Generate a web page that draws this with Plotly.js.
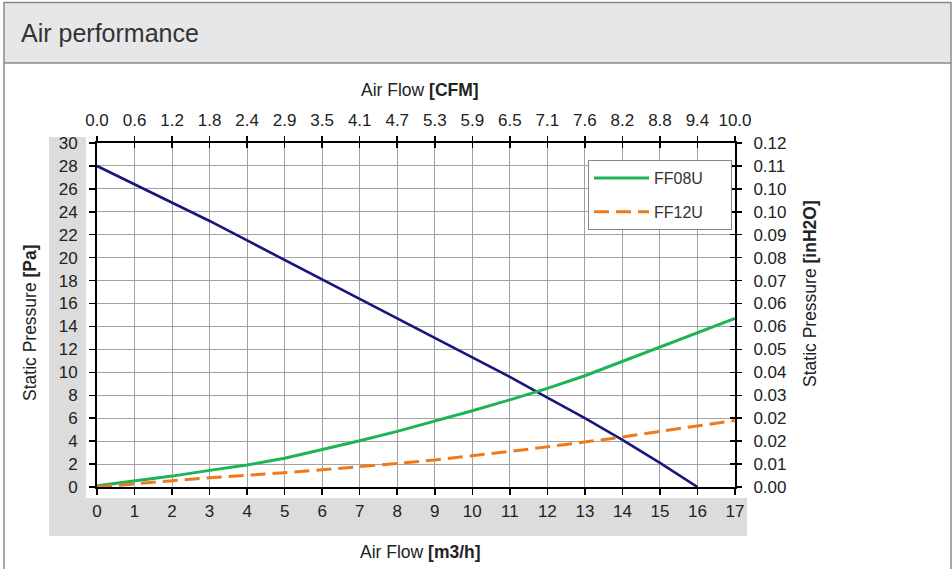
<!DOCTYPE html>
<html><head><meta charset="utf-8">
<script src="https://cdn.plot.ly/plotly-3.0.1.min.js"></script>
<style>html,body{margin:0;padding:0;background:#fff;} #chart{width:952px;height:569px;}</style>
</head><body><div id="chart"></div>
<script>
// ---- data ----
const flowM3h = [0,1,2,3,4,5,6,7,8,9,10,11,12,13,14,15,16,17];
const fanFlowM3h = [0,1,2,3,4,5,6,7,8,9,10,11,12,13,14,15,16];
const fanPressurePa = [28,26.4,24.8,23.2,21.5,19.8,18.1,16.4,14.7,13.0,11.3,9.6,7.8,6.0,4.1,2.1,0];
const ff08uPa = [0.1,0.5,0.95,1.45,1.92,2.5,3.25,4.03,4.85,5.74,6.65,7.6,8.6,9.7,10.95,12.25,13.5,14.7];
const ff12uPa = [0,0.3,0.55,0.8,1.0,1.25,1.5,1.75,2.05,2.35,2.7,3.1,3.5,3.9,4.35,4.85,5.35,5.8];
const cfmTickLabels = ['0.0','0.6','1.2','1.8','2.4','2.9','3.5','4.1','4.7','5.3','5.9','6.5','7.1','7.6','8.2','8.8','9.4','10.0'];
const paTicks = [0,2,4,6,8,10,12,14,16,18,20,22,24,26,28,30];
const inH2OTickLabels = ['0.00','0.01','0.02','0.02','0.03','0.04','0.05','0.06','0.06','0.07','0.08','0.09','0.10','0.10','0.11','0.12'];

// ---- layout helpers (pixel -> paper) ----
const L = 97, R = 735, T = 143, B = 487;
const px = v => (v - L) / (R - L);
const py = v => (B - v) / (B - T);
const FONT = 'Liberation Sans, Arial, Helvetica, sans-serif';
const PAD = '\u00a0\u00a0\u00a0\u00a0\u00a0';

const traces = [
  {x: fanFlowM3h, y: fanPressurePa, type:'scatter', mode:'lines', showlegend:false,
   line:{color:'#16167c', width:2.6}, hoverinfo:'skip'},
  {x: flowM3h, y: ff08uPa, type:'scatter', mode:'lines', name:'FF08U' + PAD, legendgroup:'a',
   line:{color:'#1db357', width:3}},
  {x: flowM3h, y: ff12uPa, type:'scatter', mode:'lines', name:'FF12U' + PAD, legendgroup:'b',
   line:{color:'#ee7a1e', width:3, dash:'15px,7px'}},
  {x: [], y: [], xaxis:'x2', yaxis:'y2', type:'scatter', showlegend:false},
  {x: [], y: [], xaxis:'x3', yaxis:'y3', type:'scatter', showlegend:false}
];

const tickFont = {family: FONT, size: 17, color: '#222'};
const titleFont = {family: FONT, size: 17.5, color: '#222'};
const baseAx = {
  showline:true, linecolor:'#000', linewidth:2, zeroline:false,
  tickcolor:'#000', tickwidth:1.5, tickfont: tickFont, fixedrange:true
};

const layout = {
  width:952, height:569,
  margin:{l:L, r:952-R, t:T, b:569-B, pad:0},
  paper_bgcolor:'#fff', plot_bgcolor:'#fff',
  font:{family:FONT, color:'#222'},
  showlegend:true,
  legend:{x:px(588), y:py(160), xanchor:'left', yanchor:'top',
    bgcolor:'#fff', bordercolor:'#888', borderwidth:1,
    font:{family:FONT, size:16, color:'#333'}, traceorder:'grouped', tracegroupgap:10,
    itemwidth:55},
  xaxis: Object.assign({}, baseAx, {range:[0,17], tickvals:flowM3h, ticks:'outside', ticklen:6,
    showgrid:true, gridcolor:'#a3a3a3', gridwidth:1, ticklabelstandoff:2}),
  yaxis: Object.assign({}, baseAx, {range:[0,30], tickvals:paTicks, ticks:'outside', ticklen:6,
    showgrid:true, gridcolor:'#a3a3a3', gridwidth:1, ticklabelstandoff:8}),
  xaxis2: Object.assign({}, baseAx, {overlaying:'x', side:'top', anchor:'y2', range:[0,17],
    tickvals:flowM3h, ticktext:cfmTickLabels, ticks:'outside', ticklen:5, showgrid:false, ticklabelstandoff:3}),
  yaxis2: Object.assign({}, baseAx, {overlaying:'y', side:'right', anchor:'x2', range:[0,30],
    tickvals:paTicks, ticktext:inH2OTickLabels, ticks:'outside', ticklen:5, showgrid:false, ticklabelstandoff:8}),
  xaxis3: Object.assign({}, baseAx, {overlaying:'x', side:'top', anchor:'y3', range:[0,17],
    tickvals:flowM3h, ticks:'inside', ticklen:5, showticklabels:false, showgrid:false}),
  yaxis3: Object.assign({}, baseAx, {overlaying:'y', side:'right', anchor:'x3', range:[0,30],
    tickvals:paTicks, ticks:'inside', ticklen:5, showticklabels:false, showgrid:false}),
  shapes:[
    {type:'rect', xref:'paper', yref:'paper', x0:px(4), x1:px(951), y0:py(63), y1:py(3),
     fillcolor:'#e6e7e8', line:{width:0}, layer:'below'},
    {type:'line', xref:'paper', yref:'paper', x0:px(4), x1:px(951), y0:py(63), y1:py(63),
     line:{color:'#555', width:1}},
    {type:'rect', xref:'paper', yref:'paper', x0:px(4), x1:px(951), y0:py(575), y1:py(2.5),
     fillcolor:'rgba(0,0,0,0)', line:{color:'#8a8a8a', width:1.5}},
    {type:'rect', xref:'paper', yref:'paper', x0:px(49), x1:px(86), y0:py(498), y1:py(137),
     fillcolor:'#dcdcdc', line:{width:0}, layer:'below'},
    {type:'rect', xref:'paper', yref:'paper', x0:px(49), x1:px(747), y0:py(536), y1:py(498),
     fillcolor:'#dcdcdc', line:{width:0}, layer:'below'}
  ],
  annotations:[
    {text:'Air performance', xref:'paper', yref:'paper', x:px(19), y:py(33), xanchor:'left', yanchor:'middle',
     showarrow:false, font:{family:FONT, size:25, color:'#333'}},
    {text:'Air Flow <b>[CFM]</b>', xref:'paper', yref:'paper', x:px(420), y:py(90), xanchor:'center', yanchor:'middle',
     showarrow:false, font:titleFont},
    {text:'Air Flow <b>[m3/h]</b>', xref:'paper', yref:'paper', x:px(420), y:py(552), xanchor:'center', yanchor:'middle',
     showarrow:false, font:titleFont},
    {text:'Static Pressure <b>[Pa]</b>', xref:'paper', yref:'paper', x:px(30), y:py(323), xanchor:'center', yanchor:'middle',
     textangle:-90, showarrow:false, font:titleFont},
    {text:'Static Pressure <b>[inH2O]</b>', xref:'paper', yref:'paper', x:px(810), y:py(294), xanchor:'center', yanchor:'middle',
     textangle:-90, showarrow:false, font:titleFont}
  ]
};

Plotly.newPlot('chart', traces, layout, {displayModeBar:false, staticPlot:true});
</script>
</body></html>
